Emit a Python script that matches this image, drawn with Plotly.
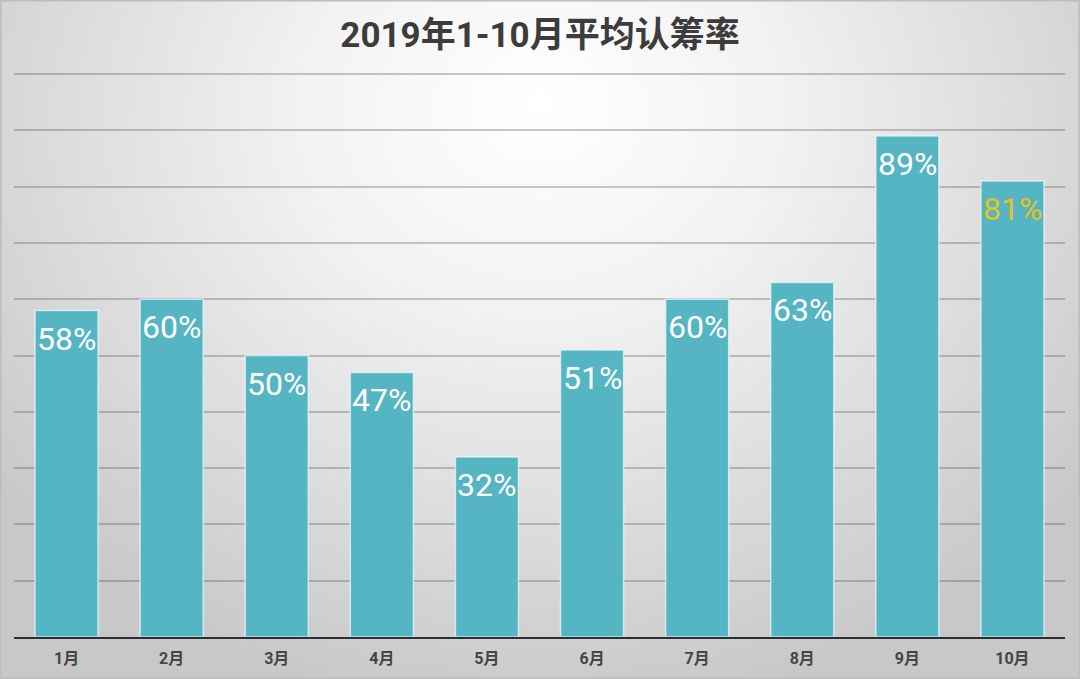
import base64
import plotly.graph_objects as go

months = ["1月", "2月", "3月", "4月", "5月", "6月", "7月", "8月", "9月", "10月"]
rates = [58, 60, 50, 47, 32, 51, 60, 63, 89, 81]
label_colors = ["#ffffff"] * 9 + ["#e8c21e"]
title_text = "2019年1-10月平均认筹率"

W, H = 1080, 679
ML, MR, MT, MB = 14, 15, 73, 42
pw, ph = W - ML - MR, H - MT - MB

svg = f'''<svg xmlns="http://www.w3.org/2000/svg" width="{W}" height="{H}" viewBox="0 0 {W} {H}" preserveAspectRatio="none">
<defs><radialGradient id="g" cx="0.5" cy="0.2" r="0.85" fx="0.5" fy="0.15" gradientTransform="translate(0.5 0.2) scale(0.75 1) translate(-0.5 -0.2)">
<stop offset="0" stop-color="#ffffff"/><stop offset="0.35" stop-color="#f2f2f2"/>
<stop offset="0.7" stop-color="#dcdcdc"/><stop offset="1" stop-color="#c8c8c8"/></radialGradient></defs>
<rect width="{W}" height="{H}" fill="url(#g)"/>
<rect x="0.5" y="0.5" width="{W-1}" height="{H-1}" fill="none" stroke="#bdbdbd" stroke-width="2"/>
</svg>'''
src = "data:image/svg+xml;base64," + base64.b64encode(svg.encode()).decode()

fig = go.Figure(go.Bar(
    x=months, y=rates,
    marker=dict(color="#55b5c3", line=dict(color="rgba(235,250,252,0.7)", width=1.5)),
    width=0.6, hoverinfo="skip",
))

for m, v, c in zip(months, rates, label_colors):
    fig.add_annotation(
        x=m, y=v, text=f"{v}%", showarrow=False, yanchor="top", yshift=-7,
        font=dict(family="Roboto, Liberation Sans, Arial", size=32, color=c),
    )

fig.add_layout_image(dict(
    source=src, xref="paper", yref="paper",
    x=-ML / pw, y=1 + MT / ph, sizex=W / pw, sizey=H / ph,
    xanchor="left", yanchor="top", sizing="stretch", layer="below",
))

fig.update_layout(
    width=W, height=H,
    margin=dict(l=ML, r=MR, t=MT, b=MB),
    paper_bgcolor="#e6e6e6", plot_bgcolor="rgba(0,0,0,0)",
    title=dict(text=title_text, x=0.5, xanchor="center", y=1 - 35 / H, yanchor="middle",
               font=dict(family="Roboto, Noto Sans CJK SC", size=35, color="#3c3c3c", weight="bold")),
    showlegend=False,
    xaxis=dict(showline=True, linecolor="#2e2e2e", linewidth=2, ticks="", showgrid=False,
               ticklabelstandoff=6,
               tickfont=dict(family="Roboto, Noto Sans CJK SC", size=16, color="#454545", weight="bold")),
    yaxis=dict(range=[0, 100.2], tickvals=[10, 20, 30, 40, 50, 60, 70, 80, 90, 100],
               showticklabels=False, ticks="", zeroline=False,
               showgrid=True, gridcolor="rgba(60,60,60,0.27)", gridwidth=1.5),
    bargap=0.4,
)

fig.write_html("out.html")
